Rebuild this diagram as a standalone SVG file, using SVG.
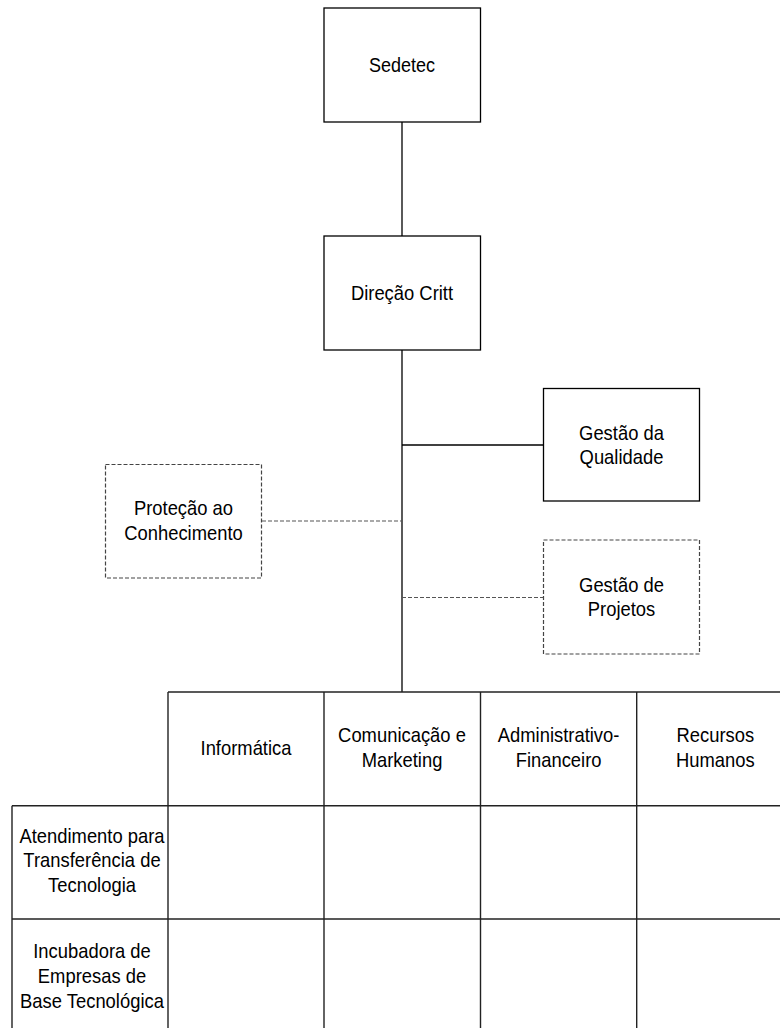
<svg xmlns="http://www.w3.org/2000/svg" width="780" height="1028" viewBox="0 0 780 1028">
<style>
.box{fill:#fff;stroke:#000;stroke-width:1.3}
.dbox{fill:#fff;stroke:#444;stroke-width:1.2;stroke-dasharray:4 2}
.ln{stroke:#000;stroke-width:1.3;fill:none}
.dln{stroke:#555;stroke-width:1.2;stroke-dasharray:4 2;fill:none}
.grid{stroke:#222;stroke-width:1.4;fill:none}
text{font-family:"Liberation Sans",Arial,sans-serif;font-size:20px;fill:#000;text-anchor:middle}
</style>
<rect width="780" height="1028" fill="#fff"/>
<g id="connectors">
<line class="ln" x1="402" y1="122" x2="402" y2="236"/>
<line class="ln" x1="402" y1="350" x2="402" y2="692"/>
<line class="ln" x1="402" y1="445" x2="543.5" y2="445"/>
<line class="dln" x1="262" y1="521" x2="402" y2="521"/>
<line class="dln" x1="402" y1="597.5" x2="543.5" y2="597.5"/>
</g>
<g id="sedetec">
<rect class="box" x="324" y="8" width="156.5" height="114"/>
<text transform="translate(402 72) scale(0.9 1)">Sedetec</text>
</g>
<g id="direcao">
<rect class="box" x="324" y="236" width="156.5" height="114"/>
<text transform="translate(402 300) scale(0.92 1)">Direção Critt</text>
</g>
<g id="qualidade">
<rect class="box" x="543.5" y="388.5" width="156" height="112.5"/>
<text transform="translate(621.5 439.5) scale(0.92 1)">Gestão da</text>
<text transform="translate(621.5 463.5) scale(0.92 1)">Qualidade</text>
</g>
<g id="protecao">
<rect class="dbox" x="105.5" y="464.5" width="156" height="113.5"/>
<text transform="translate(183.5 515) scale(0.92 1)">Proteção ao</text>
<text transform="translate(183.5 540) scale(0.92 1)">Conhecimento</text>
</g>
<g id="projetos">
<rect class="dbox" x="543.5" y="540" width="156" height="114"/>
<text transform="translate(621.5 591.5) scale(0.92 1)">Gestão de</text>
<text transform="translate(621.5 615.5) scale(0.92 1)">Projetos</text>
</g>
<g id="table">
<line class="grid" x1="168" y1="692" x2="780" y2="692"/>
<line class="grid" x1="12" y1="805.7" x2="780" y2="805.7"/>
<line class="grid" x1="12" y1="919" x2="780" y2="919"/>
<line class="grid" x1="12" y1="805.7" x2="12" y2="1028"/>
<line class="grid" x1="168" y1="692" x2="168" y2="1028"/>
<line class="grid" x1="324" y1="692" x2="324" y2="1028"/>
<line class="grid" x1="480.5" y1="692" x2="480.5" y2="1028"/>
<line class="grid" x1="636.7" y1="692" x2="636.7" y2="1028"/>
</g>
<g id="informatica"><text transform="translate(246 755) scale(0.92 1)">Informática</text></g>
<g id="comunicacao"><text transform="translate(402 741.7) scale(0.92 1)">Comunicação e</text><text transform="translate(402 766.7) scale(0.92 1)">Marketing</text></g>
<g id="administrativo"><text transform="translate(558.6 741.7) scale(0.92 1)">Administrativo-</text><text transform="translate(558.6 766.7) scale(0.92 1)">Financeiro</text></g>
<g id="recursos"><text transform="translate(715.3 741.7) scale(0.92 1)">Recursos</text><text transform="translate(715.3 766.7) scale(0.92 1)">Humanos</text></g>
<g id="atendimento"><text transform="translate(92 842.7) scale(0.92 1)">Atendimento para</text><text transform="translate(92 867.3) scale(0.92 1)">Transferência de</text><text transform="translate(92 891.7) scale(0.92 1)">Tecnologia</text></g>
<g id="incubadora"><text transform="translate(92 958.3) scale(0.92 1)">Incubadora de</text><text transform="translate(92 983.3) scale(0.92 1)">Empresas de</text><text transform="translate(92 1008.3) scale(0.92 1)">Base Tecnológica</text></g>
</svg>
